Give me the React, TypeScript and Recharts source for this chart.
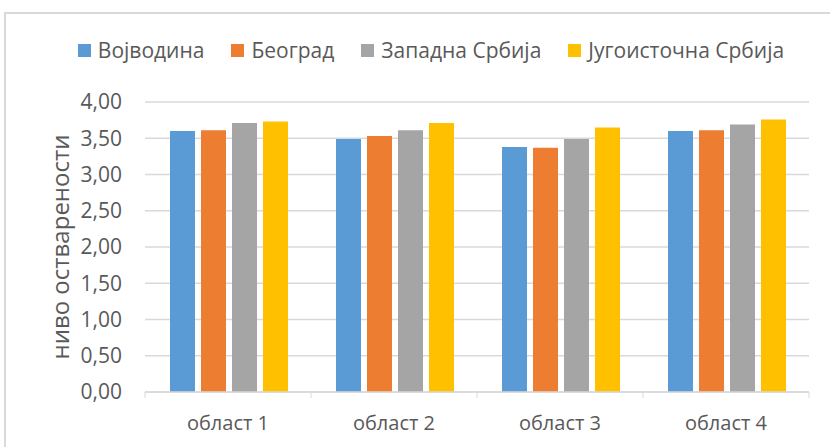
import React from "react";
import { Bar, BarChart, CartesianGrid, Label, Legend, XAxis, YAxis } from "recharts";

const categories = ["област 1", "област 2", "област 3", "област 4"];
const vojvodina = [3.6, 3.49, 3.38, 3.6];
const beograd = [3.61, 3.53, 3.37, 3.61];
const zapadnaSrbija = [3.71, 3.61, 3.49, 3.69];
const jugoistocnaSrbija = [3.73, 3.71, 3.65, 3.76];
const yTicks = [0, 0.5, 1, 1.5, 2, 2.5, 3, 3.5, 4];

const series = [
  { key: "vojvodina", name: "Војводина", color: "#5B9BD5" },
  { key: "beograd", name: "Београд", color: "#ED7D31" },
  { key: "zapadna", name: "Западна Србија", color: "#A5A5A5" },
  { key: "jugoistocna", name: "Југоисточна Србија", color: "#FFC000" },
];

const data = categories.map((name, i) => ({
  name,
  vojvodina: vojvodina[i],
  beograd: beograd[i],
  zapadna: zapadnaSrbija[i],
  jugoistocna: jugoistocnaSrbija[i],
}));

const FONT = "'Open Sans', sans-serif";
const TEXT = "#595959";
const GRID = "#d9d9d9";
const BAND = (830 - 145 - 21) / categories.length;

function fmt(v: number) {
  return v.toFixed(2).replace(".", ",");
}

function CategoryTick(props: any) {
  const { x, y, payload, index } = props;
  const top = y - 12 - 2; // back to axis line
  return (
    <g>
      <line x1={x - BAND / 2} x2={x - BAND / 2} y1={top} y2={top + 6} stroke={GRID} />
      {index === categories.length - 1 && (
        <line x1={x + BAND / 2} x2={x + BAND / 2} y1={top} y2={top + 6} stroke={GRID} />
      )}
      <text x={x} y={top + 38} textAnchor="middle" fill={TEXT} fontSize={20} fontFamily={FONT}>
        {payload.value}
      </text>
    </g>
  );
}

function LegendContent() {
  return (
    <div
      style={{
        display: "flex",
        justifyContent: "center",
        gap: 27,
        fontFamily: FONT,
        fontSize: 21,
        color: TEXT,
      }}
    >
      {series.map((s) => (
        <div key={s.key} style={{ display: "flex", alignItems: "center", gap: 7 }}>
          <span style={{ width: 13, height: 13, background: s.color, display: "inline-block" }} />
          <span>{s.name}</span>
        </div>
      ))}
    </div>
  );
}

export default function App() {
  return (
    <div
      style={{
        position: "absolute",
        left: 0,
        top: 0,
        width: 830,
        height: 447,
        overflow: "hidden",
        background: "#fff",
      }}
    >
      <div
        style={{
          position: "absolute",
          left: 4,
          top: 12,
          width: 900,
          height: 500,
          border: `2px solid ${GRID}`,
        }}
      />
      <BarChart
        width={830}
        height={447}
        data={data}
        margin={{ top: 102, right: 21, left: 0, bottom: 25 }}
        barCategoryGap={25}
        barGap={6}
      >
        <CartesianGrid vertical={false} stroke={GRID} strokeWidth={1.5} />
        <XAxis
          dataKey="name"
          height={30}
          axisLine={{ stroke: GRID, strokeWidth: 1.5 }}
          tickLine={false}
          tickSize={12}
          tickMargin={2}
          tick={<CategoryTick />}
          interval={0}
        />
        <YAxis
          width={145}
          domain={[0, 4]}
          ticks={yTicks}
          tickFormatter={fmt}
          axisLine={false}
          tickLine={false}
          tickSize={6}
          tickMargin={17}
          tick={{ fill: TEXT, fontSize: 21, fontFamily: FONT }}
        >
          <Label
            value="ниво остварености"
            angle={-90}
            position="insideLeft"
            offset={60}
            style={{ textAnchor: "middle", fill: TEXT, fontSize: 24, fontFamily: FONT }}
          />
        </YAxis>
        <Legend
          verticalAlign="middle"
          layout="horizontal"
          content={<LegendContent />}
          wrapperStyle={{ top: 36, left: 16, width: 830 }}
        />
        {series.map((s) => (
          <Bar key={s.key} dataKey={s.key} name={s.name} fill={s.color} isAnimationActive={false} />
        ))}
      </BarChart>
    </div>
  );
}
